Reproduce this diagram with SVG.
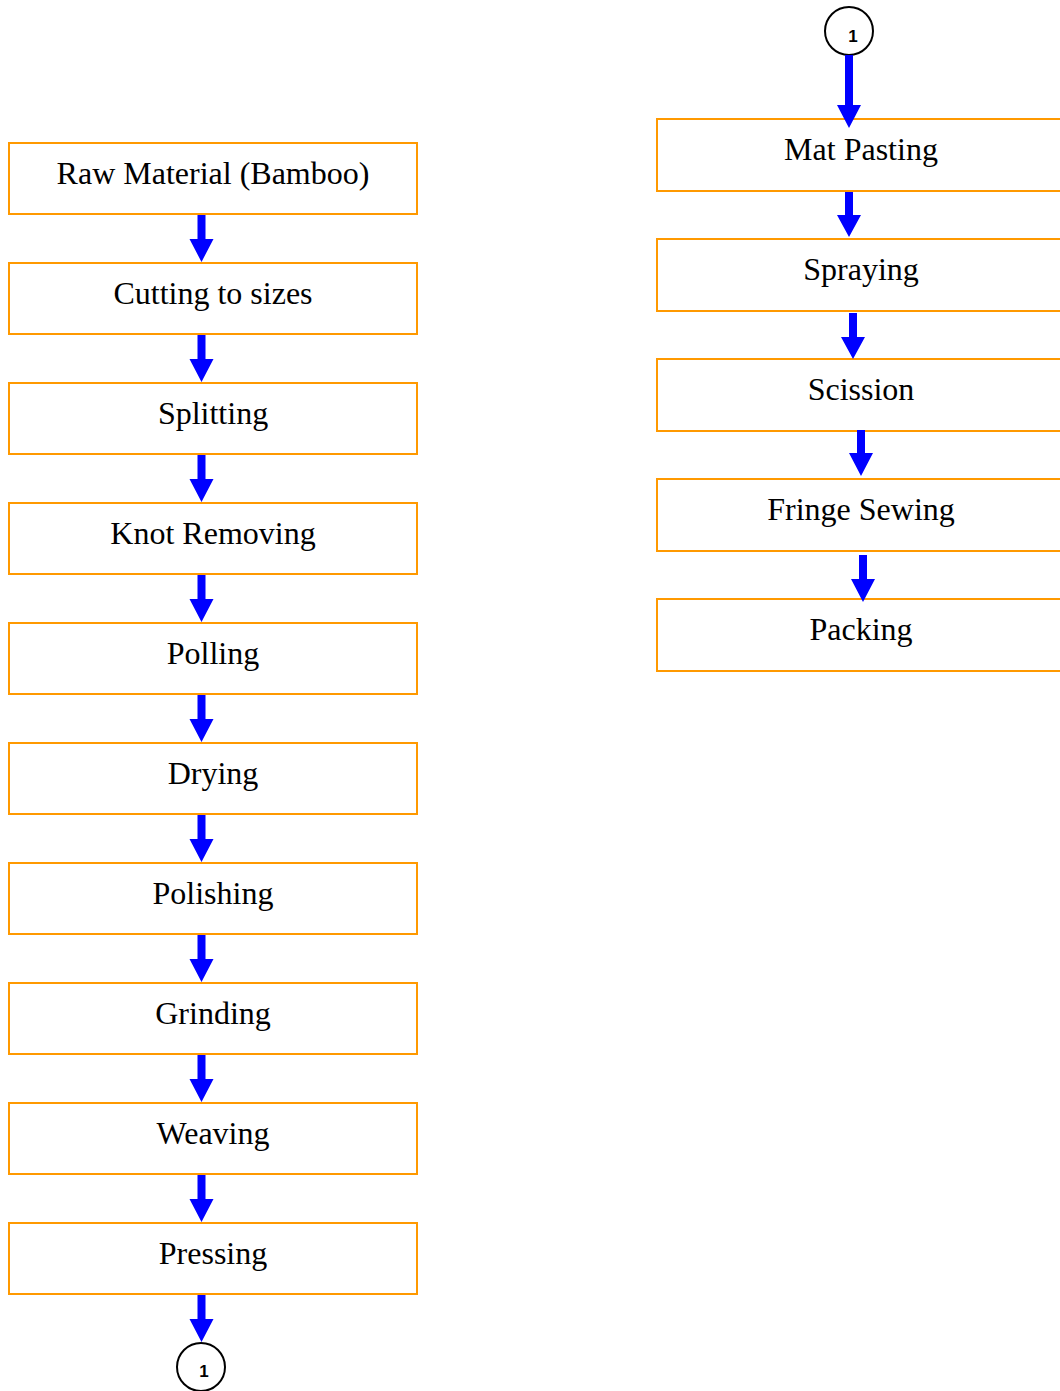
<svg xmlns="http://www.w3.org/2000/svg" width="1060" height="1391" viewBox="0 0 1060 1391">
<style>
.box{fill:#fff;stroke:#FF9900;stroke-width:2}
.lbl{font-family:"Liberation Serif","Times New Roman",serif;font-size:32px;fill:#000;text-anchor:middle}
.conn{fill:#0000FF;stroke:none}
.circ{fill:#fff;stroke:#000;stroke-width:2}
.num{font-family:"Liberation Sans",Arial,sans-serif;font-weight:bold;font-size:17px;fill:#000;text-anchor:middle}
</style>
<rect width="1060" height="1391" fill="#fff"/>
<g id="n1"><rect class="box" x="9" y="143" width="408" height="71"/><text class="lbl" x="213" y="184">Raw Material (Bamboo)</text></g>
<g id="n2"><rect class="box" x="9" y="263" width="408" height="71"/><text class="lbl" x="213" y="304">Cutting to sizes</text></g>
<g id="n3"><rect class="box" x="9" y="383" width="408" height="71"/><text class="lbl" x="213" y="424">Splitting</text></g>
<g id="n4"><rect class="box" x="9" y="503" width="408" height="71"/><text class="lbl" x="213" y="544">Knot Removing</text></g>
<g id="n5"><rect class="box" x="9" y="623" width="408" height="71"/><text class="lbl" x="213" y="664">Polling</text></g>
<g id="n6"><rect class="box" x="9" y="743" width="408" height="71"/><text class="lbl" x="213" y="784">Drying</text></g>
<g id="n7"><rect class="box" x="9" y="863" width="408" height="71"/><text class="lbl" x="213" y="904">Polishing</text></g>
<g id="n8"><rect class="box" x="9" y="983" width="408" height="71"/><text class="lbl" x="213" y="1024">Grinding</text></g>
<g id="n9"><rect class="box" x="9" y="1103" width="408" height="71"/><text class="lbl" x="213" y="1144">Weaving</text></g>
<g id="n10"><rect class="box" x="9" y="1223" width="408" height="71"/><text class="lbl" x="213" y="1264">Pressing</text></g>
<g id="c1a"><circle class="circ" cx="201" cy="1367" r="24"/><text class="num" x="204" y="1377">1</text></g>
<g id="c1b"><circle class="circ" cx="849" cy="31" r="24"/><text class="num" x="853" y="42">1</text></g>
<g id="n11"><rect class="box" x="657" y="119" width="408" height="72"/><text class="lbl" x="861" y="160">Mat Pasting</text></g>
<g id="n12"><rect class="box" x="657" y="239" width="408" height="72"/><text class="lbl" x="861" y="280">Spraying</text></g>
<g id="n13"><rect class="box" x="657" y="359" width="408" height="72"/><text class="lbl" x="861" y="400">Scission</text></g>
<g id="n14"><rect class="box" x="657" y="479" width="408" height="72"/><text class="lbl" x="861" y="520">Fringe Sewing</text></g>
<g id="n15"><rect class="box" x="657" y="599" width="408" height="72"/><text class="lbl" x="861" y="640">Packing</text></g>
<g id="connectors">
<polygon class="conn" points="197.5,215 205.5,215 205.5,239 213.5,239 201.5,262 189.5,239 197.5,239"/>
<polygon class="conn" points="197.5,335 205.5,335 205.5,359 213.5,359 201.5,382 189.5,359 197.5,359"/>
<polygon class="conn" points="197.5,455 205.5,455 205.5,479 213.5,479 201.5,502 189.5,479 197.5,479"/>
<polygon class="conn" points="197.5,575 205.5,575 205.5,599 213.5,599 201.5,622 189.5,599 197.5,599"/>
<polygon class="conn" points="197.5,695 205.5,695 205.5,719 213.5,719 201.5,742 189.5,719 197.5,719"/>
<polygon class="conn" points="197.5,815 205.5,815 205.5,839 213.5,839 201.5,862 189.5,839 197.5,839"/>
<polygon class="conn" points="197.5,935 205.5,935 205.5,959 213.5,959 201.5,982 189.5,959 197.5,959"/>
<polygon class="conn" points="197.5,1055 205.5,1055 205.5,1079 213.5,1079 201.5,1102 189.5,1079 197.5,1079"/>
<polygon class="conn" points="197.5,1175 205.5,1175 205.5,1199 213.5,1199 201.5,1222 189.5,1199 197.5,1199"/>
<polygon class="conn" points="197.5,1295 205.5,1295 205.5,1319 213.5,1319 201.5,1342 189.5,1319 197.5,1319"/>
<polygon class="conn" points="845,55 853,55 853,105 861,105 849,128 837,105 845,105"/>
<polygon class="conn" points="845,192 853,192 853,215 861,215 849,237 837,215 845,215"/>
<polygon class="conn" points="849,313 857,313 857,337 865,337 853,359 841,337 849,337"/>
<polygon class="conn" points="857,430 865,430 865,453 873,453 861,476 849,453 857,453"/>
<polygon class="conn" points="859,555 867,555 867,579 875,579 863,602 851,579 859,579"/>
</g>
</svg>
